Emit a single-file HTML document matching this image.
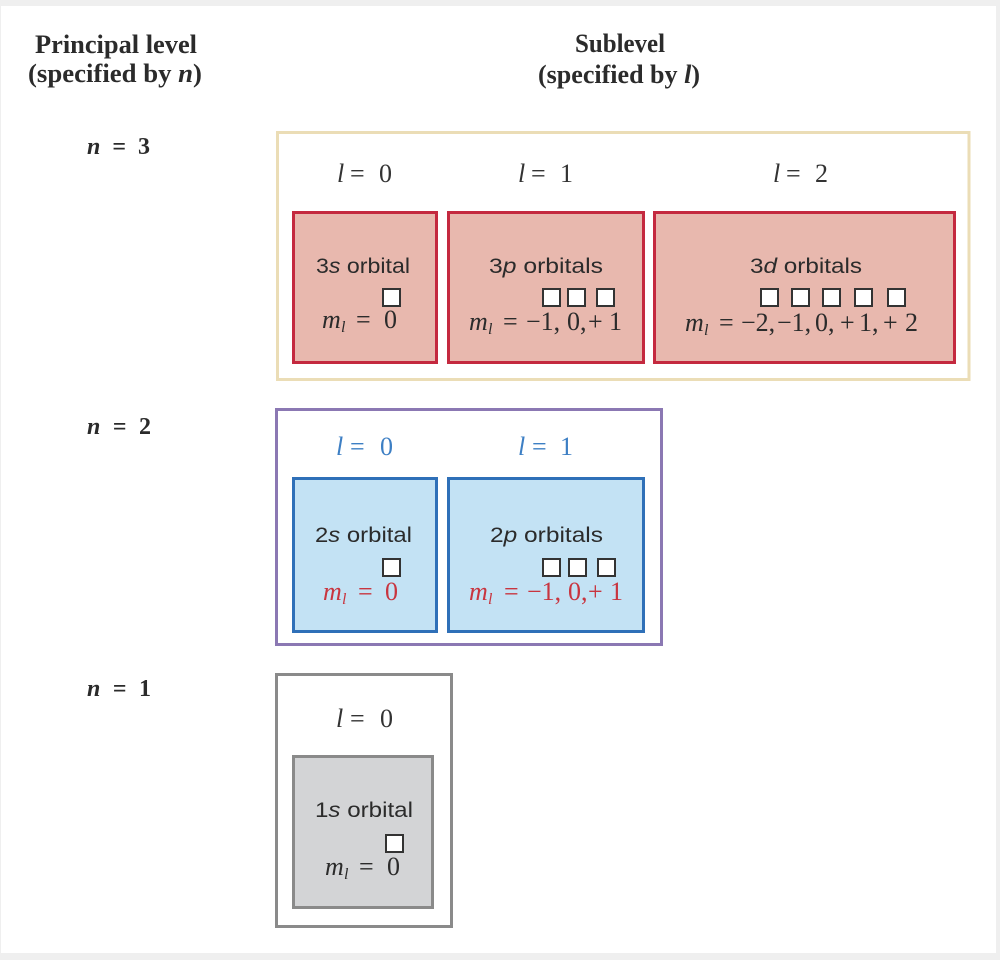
<!DOCTYPE html>
<html><head><meta charset="utf-8"><style>
html,body{margin:0;padding:0;background:#efefef;}
svg{display:block;}
</style></head><body>
<svg width="1000" height="960" viewBox="0 0 1000 960" xmlns="http://www.w3.org/2000/svg">
<rect x="0" y="0" width="1000" height="960" fill="#efefef"/>
<rect x="1" y="6" width="995" height="947" fill="#ffffff"/>

<g font-family="Liberation Serif, serif" fill="#2b2b2b">
  <text x="35" y="53" font-size="26" font-weight="bold" textLength="162" lengthAdjust="spacingAndGlyphs">Principal level</text>
  <text x="28" y="82" font-size="26" font-weight="bold" textLength="174" lengthAdjust="spacingAndGlyphs">(specified by <tspan font-style="italic">n</tspan>)</text>
  <text x="575" y="52" font-size="26" font-weight="bold" textLength="90" lengthAdjust="spacingAndGlyphs">Sublevel</text>
  <text x="538" y="83" font-size="26" font-weight="bold" textLength="162" lengthAdjust="spacingAndGlyphs">(specified by <tspan font-style="italic">l</tspan>)</text>

  <text x="87" y="154" font-size="24" font-weight="bold" textLength="63" lengthAdjust="spacing"><tspan font-style="italic">n</tspan> = 3</text>
  <text x="87" y="434" font-size="24" font-weight="bold" textLength="64" lengthAdjust="spacing"><tspan font-style="italic">n</tspan> = 2</text>
  <text x="87" y="696" font-size="24" font-weight="bold" textLength="64" lengthAdjust="spacing"><tspan font-style="italic">n</tspan> = 1</text>
</g>

<!-- n = 3 -->
<rect x="277.5" y="132.5" width="691.5" height="247" fill="#fff" stroke="#ebddb6" stroke-width="3"/>
<rect x="293.5" y="212.5" width="143" height="150" fill="#e8b8ae" stroke="#c4293f" stroke-width="3"/>
<rect x="448.5" y="212.5" width="195" height="150" fill="#e8b8ae" stroke="#c4293f" stroke-width="3"/>
<rect x="654.5" y="212.5" width="300" height="150" fill="#e8b8ae" stroke="#c4293f" stroke-width="3"/>

<!-- n = 2 -->
<rect x="276.5" y="409.5" width="385" height="235" fill="#fff" stroke="#8b78b3" stroke-width="3"/>
<rect x="293.5" y="478.5" width="143" height="153" fill="#c3e2f4" stroke="#2f70b8" stroke-width="3"/>
<rect x="448.5" y="478.5" width="195" height="153" fill="#c3e2f4" stroke="#2f70b8" stroke-width="3"/>

<!-- n = 1 -->
<rect x="276.5" y="674.5" width="175" height="252" fill="#fff" stroke="#8a8a8a" stroke-width="3"/>
<rect x="293.5" y="756.5" width="139" height="151" fill="#d3d4d6" stroke="#8a8a8a" stroke-width="3"/>

<!-- l labels -->
<g font-family="Liberation Serif, serif" font-size="26" fill="#333">
  <text y="182"><tspan x="337" font-style="italic">l</tspan><tspan x="350">=</tspan><tspan x="379">0</tspan></text>
  <text y="182"><tspan x="518" font-style="italic">l</tspan><tspan x="531">=</tspan><tspan x="560">1</tspan></text>
  <text y="182"><tspan x="773" font-style="italic">l</tspan><tspan x="786">=</tspan><tspan x="815">2</tspan></text>
  <text y="455" fill="#3d7fc4"><tspan x="336" font-style="italic">l</tspan><tspan x="350">=</tspan><tspan x="380">0</tspan></text>
  <text y="455" fill="#3d7fc4"><tspan x="518" font-style="italic">l</tspan><tspan x="532">=</tspan><tspan x="560">1</tspan></text>
  <text y="727"><tspan x="336" font-style="italic">l</tspan><tspan x="350">=</tspan><tspan x="380">0</tspan></text>
</g>

<!-- orbital labels -->
<g font-family="Liberation Sans, sans-serif" font-size="21" fill="#2b2b2b">
  <text x="316" y="273" textLength="94" lengthAdjust="spacingAndGlyphs">3<tspan font-style="italic">s</tspan> orbital</text>
  <text x="489" y="273" textLength="114" lengthAdjust="spacingAndGlyphs">3<tspan font-style="italic">p</tspan> orbitals</text>
  <text x="750" y="273" textLength="112" lengthAdjust="spacingAndGlyphs">3<tspan font-style="italic">d</tspan> orbitals</text>
  <text x="315" y="542" textLength="97" lengthAdjust="spacingAndGlyphs">2<tspan font-style="italic">s</tspan> orbital</text>
  <text x="490" y="542" textLength="113" lengthAdjust="spacingAndGlyphs">2<tspan font-style="italic">p</tspan> orbitals</text>
  <text x="315" y="817" textLength="98" lengthAdjust="spacingAndGlyphs">1<tspan font-style="italic">s</tspan> orbital</text>
</g>

<!-- squares -->
<g fill="#fff" stroke="#333" stroke-width="2">
  <rect x="383" y="289" width="17" height="17"/>
  <rect x="543" y="289" width="17" height="17"/>
  <rect x="568" y="289" width="17" height="17"/>
  <rect x="597" y="289" width="17" height="17"/>
  <rect x="761" y="289" width="17" height="17"/>
  <rect x="792" y="289" width="17" height="17"/>
  <rect x="823" y="289" width="17" height="17"/>
  <rect x="855" y="289" width="17" height="17"/>
  <rect x="888" y="289" width="17" height="17"/>
  <rect x="383" y="559" width="17" height="17"/>
  <rect x="543" y="559" width="17" height="17"/>
  <rect x="569" y="559" width="17" height="17"/>
  <rect x="598" y="559" width="17" height="17"/>
  <rect x="386" y="835" width="17" height="17"/>
</g>

<!-- m_l labels -->
<g font-family="Liberation Serif, serif" font-size="26" fill="#2b2b2b">
  <text y="328"><tspan x="322" font-style="italic">m</tspan><tspan x="341" dy="4" font-style="italic" font-size="16">l</tspan><tspan x="356" dy="-4">=</tspan><tspan x="384">0</tspan></text>
  <text y="330"><tspan x="469" font-style="italic">m</tspan><tspan x="488" dy="4" font-style="italic" font-size="16">l</tspan><tspan x="503" dy="-4">=</tspan><tspan x="526">−1,</tspan><tspan x="567">0,</tspan><tspan x="588">+</tspan><tspan x="609">1</tspan></text>
  <text y="331"><tspan x="685" font-style="italic">m</tspan><tspan x="704" dy="4" font-style="italic" font-size="16">l</tspan><tspan x="719" dy="-4">=</tspan><tspan x="741">−2,</tspan><tspan x="777">−1,</tspan><tspan x="815">0,</tspan><tspan x="840">+</tspan><tspan x="859">1,</tspan><tspan x="883">+</tspan><tspan x="905">2</tspan></text>
  <text y="600" fill="#c8353f"><tspan x="323" font-style="italic">m</tspan><tspan x="342" dy="4" font-style="italic" font-size="16">l</tspan><tspan x="358" dy="-4">=</tspan><tspan x="385">0</tspan></text>
  <text y="600" fill="#c8353f"><tspan x="469" font-style="italic">m</tspan><tspan x="488" dy="4" font-style="italic" font-size="16">l</tspan><tspan x="504" dy="-4">=</tspan><tspan x="527">−1,</tspan><tspan x="568">0,</tspan><tspan x="588">+</tspan><tspan x="610">1</tspan></text>
  <text y="875"><tspan x="325" font-style="italic">m</tspan><tspan x="344" dy="4" font-style="italic" font-size="16">l</tspan><tspan x="359" dy="-4">=</tspan><tspan x="387">0</tspan></text>
</g>
</svg>
</body></html>
